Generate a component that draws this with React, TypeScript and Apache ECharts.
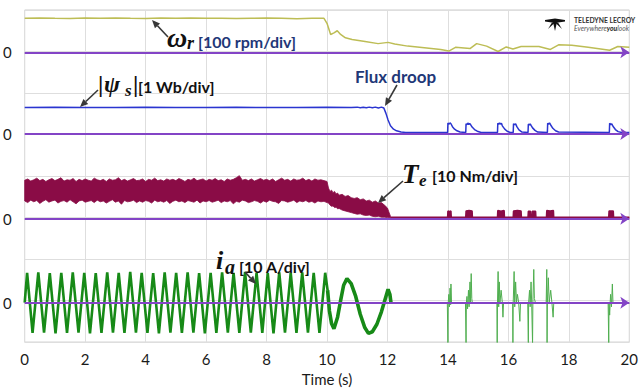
import React, { useEffect, useRef } from "react";
import * as echarts from "echarts";

// ---- data ----
// rotor speed, rpm
const omegaR: number[][] = [
  [0, 82], [0.5, 83], [1, 82], [1.5, 81.5], [2, 82.5], [2.5, 82], [3, 83], [3.5, 82], [4, 81.5],
  [4.5, 82.5], [5, 82], [5.5, 83], [6, 82], [6.5, 82], [7, 81.5], [7.5, 82], [8, 82.5], [8.5, 82],
  [9, 81], [9.5, 82], [9.9, 82], [10.0, 70], [10.12, 43], [10.23, 47], [10.34, 52], [10.45, 43],
  [10.61, 35], [10.83, 31], [11.26, 26], [11.69, 21], [12.02, 24], [12.24, 20], [12.67, 15],
  [13.22, 11], [13.76, 7], [14.03, 3], [14.25, 12], [14.73, 9], [14.95, 21], [15.28, 15],
  [15.66, 2], [15.93, 13], [16.15, 8], [16.42, 14], [17.01, 14], [17.39, 7], [17.66, 18],
  [18.1, 17], [18.64, 12], [19.35, 5], [19.62, 14], [20, 12]
];

// stator flux magnitude, Wb
const fluxMag: number[][] = [
  [0, 0.64], [1, 0.645], [2, 0.64], [3, 0.64], [4, 0.645], [5, 0.64], [6, 0.64], [7, 0.645],
  [8, 0.64], [9, 0.64], [10, 0.645], [10.8, 0.64], [11.0, 0.65], [11.1, 0.635], [11.2, 0.645],
  [11.3, 0.635], [11.4, 0.65], [11.5, 0.635], [11.6, 0.65], [11.7, 0.63], [11.8, 0.65], [11.88, 0.63],
  [11.95, 0.5], [12.02, 0.34], [12.1, 0.2], [12.2, 0.12], [12.3, 0.08], [12.45, 0.05], [12.6, 0.04],
  [13.99, 0.04], [14.0, 0.27], [14.04, 0.24], [14.07, 0.27], [14.1, 0.25], [14.15, 0.18], [14.22, 0.12],
  [14.3, 0.08], [14.4, 0.05], [14.59, 0.04], [14.6, 0.25], [14.64, 0.23], [14.66, 0.27], [14.69, 0.23],
  [14.72, 0.26], [14.75, 0.23], [14.8, 0.17], [14.88, 0.11], [14.97, 0.07], [15.1, 0.04], [15.64, 0.04],
  [15.65, 0.26], [15.69, 0.24], [15.71, 0.27], [15.74, 0.24], [15.77, 0.26], [15.8, 0.2], [15.88, 0.12],
  [15.96, 0.07], [16.06, 0.04], [16.16, 0.04], [16.17, 0.25], [16.21, 0.23], [16.24, 0.25], [16.28, 0.18],
  [16.35, 0.1], [16.45, 0.05], [16.65, 0.04], [16.66, 0.24], [16.7, 0.22], [16.72, 0.25], [16.75, 0.21],
  [16.8, 0.15], [16.88, 0.09], [16.97, 0.05], [17.29, 0.04], [17.3, 0.26], [17.34, 0.24], [17.36, 0.27],
  [17.4, 0.22], [17.47, 0.14], [17.56, 0.08], [17.66, 0.05], [19.34, 0.04], [19.35, 0.26], [19.39, 0.23],
  [19.42, 0.25], [19.46, 0.19], [19.54, 0.11], [19.63, 0.06], [19.75, 0.04], [20, 0.04]
];

// electromagnetic torque envelope, Nm (steady part sampled every 0.1 s from t = 0)
const teSampleStep = 0.1;
const teSteadyHigh = [
  9.3, 9.6, 9.1, 9.4, 9.8, 9.2, 9.5, 9.0, 9.4, 9.7,
  9.2, 9.5, 9.9, 9.1, 9.4, 9.3, 9.7, 9.0, 9.5, 9.2,
  9.6, 9.3, 9.1, 9.8, 9.4, 9.2, 9.5, 9.0, 9.6, 9.3,
  9.4, 9.9, 9.2, 9.5, 9.1, 9.4, 9.7, 9.2, 9.3, 9.6,
  9.0, 9.5, 9.3, 9.8, 9.2, 9.4, 9.1, 9.6, 9.3, 9.5,
  9.2, 9.7, 9.4, 9.0, 9.5, 9.3, 9.8, 9.2, 9.4, 9.6,
  9.1, 9.5, 9.3, 9.7, 9.2, 9.4, 9.0, 9.6, 9.3, 9.5,
  9.9, 10.4, 9.3, 9.5, 9.2, 9.6, 9.1, 9.4, 9.7, 9.3,
  9.5, 9.2, 9.6, 9.0, 9.4, 9.8, 9.3, 9.5, 9.1, 9.6,
  9.3, 9.4, 9.8, 9.2, 9.5, 9.1, 9.6, 9.3, 9.4, 9.2,
  9.0
];
const teSteadyLow = [
  4.3, 3.9, 4.5, 4.1, 4.4, 3.7, 4.2, 4.6, 4.0, 4.3,
  4.5, 3.8, 4.2, 4.4, 4.0, 4.6, 4.1, 3.6, 4.3, 4.5,
  4.0, 4.2, 4.4, 3.9, 4.5, 4.1, 4.3, 3.8, 4.2, 4.6,
  4.0, 4.3, 3.5, 4.4, 4.1, 4.2, 4.5, 3.9, 4.3, 4.0,
  4.4, 4.2, 3.8, 4.5, 4.1, 4.3, 4.0, 4.4, 3.7, 4.2,
  4.5, 4.1, 4.3, 3.9, 4.4, 4.2, 4.0, 4.5, 3.8, 4.3,
  4.1, 4.4, 4.0, 4.2, 4.5, 3.9, 4.3, 4.1, 4.4, 3.6,
  4.2, 4.0, 4.5, 4.3, 3.9, 4.1, 4.4, 4.2, 3.8, 4.3,
  4.0, 4.5, 4.2, 4.1, 3.7, 4.4, 4.3, 4.0, 4.2, 4.5,
  3.9, 4.3, 4.1, 4.4, 4.0, 4.2, 3.8, 4.3, 4.1, 4.2,
  3.9
];
const teDroopTime = [10.05, 10.1, 10.15, 10.2, 10.25, 10.3, 10.35, 10.4, 10.5, 10.6, 10.7, 10.8, 10.9, 11.0, 11.1, 11.2, 11.3, 11.4, 11.5, 11.6, 11.7, 11.8, 11.9, 12.0, 12.05, 12.1];
const teDroopHigh = [7.4, 6.6, 6.9, 6.3, 6.6, 6.0, 6.2, 5.7, 5.9, 5.4, 5.6, 5.1, 4.9, 5.1, 4.6, 4.8, 4.3, 4.5, 4.0, 4.3, 3.8, 3.9, 3.3, 2.6, 1.6, 0.6];
const teDroopLow = [3.8, 3.3, 3.0, 3.1, 2.7, 2.8, 2.4, 2.5, 2.1, 1.9, 1.7, 1.5, 1.3, 1.1, 1.2, 0.9, 0.8, 0.9, 0.6, 0.5, 0.6, 0.4, 0.4, 0.3, 0.3, 0.3];
const teTail: number[][] = [
  [12.1, 0.4], [13.99, 0.4], [14.0, 1.9], [14.05, 1.7], [14.1, 1.9], [14.11, 0.4], [14.59, 0.4], [14.6, 1.9],
  [14.7, 2.0], [14.8, 1.9], [14.81, 0.4], [15.64, 0.4], [15.65, 2.0], [15.75, 1.8], [15.86, 2.0], [15.87, 0.4],
  [16.16, 0.4], [16.17, 1.9], [16.3, 2.0], [16.42, 1.9], [16.43, 0.4], [16.65, 0.4], [16.66, 1.8], [16.73, 1.8],
  [16.74, 0.4], [16.78, 0.4], [16.79, 1.8], [16.9, 1.8], [16.91, 0.4], [17.26, 0.4], [17.27, 2.0], [17.38, 1.9],
  [17.49, 2.0], [17.5, 0.4], [19.32, 0.4], [19.33, 1.9], [19.47, 1.9], [19.48, 0.4], [20, 0.4]
];

// phase current, A : peaks and troughs of the steady sinusoid
const iaSteady: number[][] = [
  [0, 0], [0.08, 7.2], [0.26, -7.3], [0.45, 7.3], [0.64, -7.2], [0.83, 7.1], [1.02, -7.4], [1.21, 7.2],
  [1.40, -7.3], [1.59, 7.3], [1.78, -7.2], [1.97, 7.2], [2.16, -7.4], [2.35, 7.1], [2.54, -7.3], [2.73, 7.3],
  [2.92, -7.2], [3.11, 7.2], [3.30, -7.3], [3.49, 7.4], [3.68, -7.2], [3.87, 7.2], [4.06, -7.3], [4.25, 7.1],
  [4.44, -7.4], [4.63, 7.3], [4.82, -7.2], [5.01, 7.2], [5.20, -7.3], [5.39, 7.3], [5.58, -7.2], [5.77, 7.1],
  [5.96, -7.4], [6.15, 7.2], [6.34, -7.3], [6.53, 7.3], [6.72, -7.2], [6.91, 7.2], [7.10, -7.3], [7.29, 7.4],
  [7.48, -7.2], [7.67, 7.2], [7.86, -7.3], [8.04, 7.1], [8.23, -7.4], [8.42, 7.3], [8.61, -7.2], [8.80, 7.2],
  [8.99, -7.3], [9.18, 7.3], [9.37, -7.2], [9.56, 7.2], [9.75, -7.3], [9.94, 7.2], [10.02, 3]
];
const iaTransient: number[][] = [
  [10.02, 3], [10.08, -2], [10.15, -5], [10.23, -6.3], [10.35, -3.5], [10.45, 0.5], [10.55, 4.2], [10.66, 5.8],
  [10.8, 4.6], [10.95, 1.5], [11.1, -2.8], [11.25, -6], [11.37, -7.4], [11.5, -7], [11.65, -5.2], [11.8, -2.2],
  [11.95, 1.5], [12.02, 3.2], [12.08, 2], [12.12, -0.2]
];
const iaBursts: number[][] = [
  [12.12, -0.2], [13.98, -0.2], [14.0, -10], [14.01, 0], [14.03, 2], [14.05, -1], [14.07, 3.5], [14.09, -0.5], [14.1, 4.5], [14.12, -0.2],
  [14.58, -0.2], [14.6, -10], [14.61, 0], [14.63, 1.5], [14.65, -1.5], [14.68, 3], [14.7, -1], [14.73, 5], [14.75, 0], [14.77, 7], [14.79, 1], [14.81, -0.2],
  [15.62, -0.2], [15.63, -10], [15.64, 0], [15.66, 7.5], [15.68, -1], [15.7, 5], [15.72, 0], [15.76, 3], [15.8, 0], [15.82, -3.5], [15.84, -0.2],
  [16.14, -0.2], [16.15, -10], [16.16, 0], [16.19, 7.5], [16.21, -1], [16.24, 5], [16.27, 0], [16.3, 2], [16.34, 0], [16.38, -4.5], [16.4, -0.2],
  [16.64, -0.2], [16.66, -10], [16.67, 0], [16.7, 3], [16.72, -1], [16.75, 5], [16.77, 0], [16.8, -10], [16.81, 0], [16.84, 8], [16.86, 1], [16.9, -0.2],
  [17.25, -0.2], [17.27, 8], [17.28, -10], [17.29, 0], [17.32, 6], [17.35, 0], [17.4, 3], [17.44, 0], [17.48, -3.5], [17.5, -0.2],
  [19.3, -0.2], [19.32, -10], [19.33, 0], [19.35, -3], [19.38, 2], [19.41, -1], [19.44, 4.5], [19.46, -0.2], [20, -0.2]
];

// ---- styling ----
const PURPLE = "#8344c6";
const OLIVE = "#bdbd55";
const BLUE = "#2a35d0";
const MAROON = "#8a0c46";
const GREEN = "#178a17";
const NAVY = "#1f3878";
const LABEL_FONT = "Lato";

function arrow(x1: number, y1: number, x2: number, y2: number) {
  const a = Math.atan2(y2 - y1, x2 - x1);
  const L = 8, W = 3.5;
  const bx = x2 - L * Math.cos(a), by = y2 - L * Math.sin(a);
  const px = -Math.sin(a) * W, py = Math.cos(a) * W;
  return [
    { type: "line", z: 100, shape: { x1, y1, x2: bx, y2: by }, style: { stroke: "#383838", lineWidth: 1.6 } },
    { type: "polygon", z: 100, shape: { points: [[x2, y2], [bx + px, by + py], [bx - px, by - py]] }, style: { fill: "#383838" } }
  ];
}

function txt(text: string, x: number, y: number, size: number, o: any = {}) {
  return {
    type: "text", x, y, z: 100,
    style: {
      text, fontSize: size, fontFamily: o.family || LABEL_FONT, fontWeight: o.weight || "bold",
      fontStyle: o.style || "normal", fill: o.fill || "#111", align: "left", verticalAlign: "middle"
    }
  };
}
const SERIF = '"Liberation Serif"';
const sym = (t: string, x: number, y: number, s: number) => txt(t, x, y, s, { family: SERIF, style: "italic" });

function buildOption() {
  const teTime = teSteadyHigh.map((_, i) => +(i * teSampleStep).toFixed(2)).concat(teDroopTime);
  const teHigh = teSteadyHigh.concat(teDroopHigh);
  const teLow = teSteadyLow.concat(teDroopLow);

  const channels = [
    { min: -698, max: 102 },
    { min: -5.01, max: 2.99 },
    { min: -29.7, max: 50.3 },
    { min: -9.5, max: 70.5 }
  ];
  const yAxes: any[] = channels.map((c) => ({
    type: "value", min: c.min, max: c.max, position: "left", offset: 0,
    axisLine: { show: false }, axisTick: { show: false }, splitLine: { show: false },
    axisLabel: {
      fontSize: 15, fontFamily: LABEL_FONT, color: "#1a1a1a", margin: 13,
      formatter: (v: number) => (Math.abs(v) < 1e-9 ? "0" : "")
    }
  }));
  yAxes.push({
    type: "value", min: 0, max: 8, interval: 1, position: "left",
    axisLine: { show: false }, axisTick: { show: false }, axisLabel: { show: false },
    splitLine: { show: true, lineStyle: { color: "#dedede", width: 1 } }
  });

  const line = (data: number[][], yi: number, color: string, width: number, extra: any = {}) => ({
    type: "line", data, yAxisIndex: yi, showSymbol: false, symbol: "none", z: 2,
    lineStyle: { color, width, join: "bevel" }, itemStyle: { color }, ...extra
  });

  const baseline = (yi: number) => ({
    type: "line", yAxisIndex: yi, data: [], z: 6, symbol: "none",
    markLine: {
      silent: true, symbol: ["none", "arrow"], symbolSize: [9, 9], animation: false,
      lineStyle: { color: PURPLE, width: 2, type: "solid" }, label: { show: false },
      data: [{ yAxis: 0 }]
    }
  });

  // torque noise band: polygon between the high and low envelopes, through the axes' scales
  const teBand = {
    type: "custom", yAxisIndex: 2, z: 2, silent: true,
    data: [[teTime[0], teLow[0]]],
    renderItem: (params: any, api: any) => {
      const upper = teTime.map((t, i) => api.coord([t, teHigh[i]]));
      const lower = teTime.map((t, i) => api.coord([t, teLow[i]])).reverse();
      return {
        type: "polygon",
        shape: { points: upper.concat(lower) },
        style: { fill: MAROON, stroke: MAROON, lineWidth: 0.8, lineJoin: "bevel" }
      };
    }
  };

  const graphic: any[] = [
    // omega_r
    sym("ω", 167, 37.5, 28), sym("r", 187, 42.5, 18),
    txt("[100 rpm/div]", 198, 41, 16, { fill: NAVY }),
    ...arrow(168, 37, 152, 20),
    // |psi_s|
    txt("|", 98, 84, 24, { family: SERIF }), sym("ψ", 104, 84, 24), sym("s", 125, 90.5, 17),
    txt("|", 133, 84, 24, { family: SERIF }),
    txt("[1 Wb/div]", 138, 86, 16),
    ...arrow(98, 90, 80, 107),
    // flux droop
    txt("Flux droop", 355, 76, 17, { fill: NAVY }),
    ...arrow(397, 85, 385, 106),
    // T_e
    sym("T", 402, 174, 27), sym("e", 419, 180, 17),
    txt("[10 Nm/div]", 432, 175.5, 16),
    ...arrow(403, 181, 378, 203),
    // i_a
    sym("i", 216, 260, 26), sym("a", 225, 266.5, 20),
    txt("[10 A/div]", 239, 266, 16),
    ...arrow(245, 272, 256, 284),
    // logo
    { type: "polygon", z: 100, shape: { points: [[545, 20], [555, 18.5], [565, 20], [565, 21.5], [555, 23], [545, 21.5]] }, style: { fill: "#111" } },
    { type: "polygon", z: 100, shape: { points: [[553, 22], [557, 22], [555, 31]] }, style: { fill: "#111" } },
    { type: "polygon", z: 100, shape: { points: [[552, 22.5], [554.5, 23], [548, 29]] }, style: { fill: "#111" } },
    { type: "polygon", z: 100, shape: { points: [[558, 22.5], [555.5, 23], [562, 29]] }, style: { fill: "#111" } },
    { type: "text", x: 574, y: 20, z: 100, style: { text: "TELEDYNE LECROY", fontSize: 6.8, fontWeight: "bold", fontFamily: LABEL_FONT, fill: "#333", verticalAlign: "middle" } },
    {
      type: "text", x: 574, y: 28, z: 100,
      style: {
        text: "{n|Everywhere}{b|you}{n|look}", verticalAlign: "middle",
        rich: {
          n: { fontSize: 6.8, fontFamily: LABEL_FONT, fill: "#555", fontStyle: "italic" },
          b: { fontSize: 6.8, fontFamily: LABEL_FONT, fill: "#222", fontWeight: "bold", fontStyle: "italic" }
        }
      }
    }
  ];

  return {
    animation: false,
    backgroundColor: "#ffffff",
    grid: { left: 21, right: 6, top: 10, bottom: 44, show: true, borderColor: "#cccccc", borderWidth: 1 },
    xAxis: {
      type: "value", min: 0, max: 20, interval: 2,
      axisLine: { show: false }, axisTick: { show: false },
      splitLine: { show: true, lineStyle: { color: "#dedede", width: 1 } },
      axisLabel: { fontSize: 15, fontFamily: LABEL_FONT, color: "#1a1a1a", margin: 9 },
      name: "Time (s)", nameLocation: "middle", nameGap: 27,
      nameTextStyle: { fontSize: 15, fontFamily: LABEL_FONT, color: "#1a1a1a" }
    },
    yAxis: yAxes,
    series: [
      line(omegaR, 0, OLIVE, 1.5),
      line(fluxMag, 1, BLUE, 1.5),
      teBand,
      line(teTail, 2, MAROON, 1.5, { areaStyle: { color: MAROON, opacity: 1, origin: "auto" } }),
      line(iaSteady, 3, GREEN, 2.6),
      line(iaTransient, 3, GREEN, 3.6),
      line(iaBursts, 3, "#4fae4f", 1),
      baseline(0), baseline(1), baseline(2), baseline(3)
    ],
    graphic
  };
}

export default function App() {
  const ref = useRef<HTMLDivElement>(null);
  useEffect(() => {
    const chart = echarts.init(ref.current!, null, { renderer: "svg" });
    chart.setOption(buildOption() as any);
    return () => chart.dispose();
  }, []);
  return (
    <div
      ref={ref}
      style={{ position: "fixed", left: 0, top: 0, width: 641, height: 391, background: "#fff" }}
    />
  );
}
